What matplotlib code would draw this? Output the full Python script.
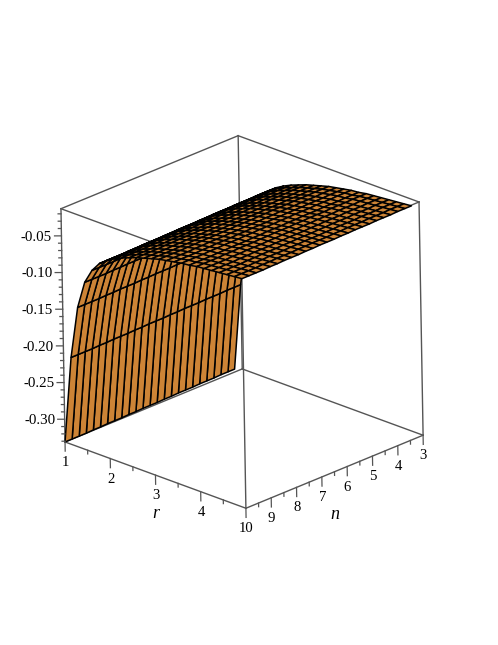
import numpy as np
import matplotlib
matplotlib.use("Agg")
import matplotlib.pyplot as plt
from mpl_toolkits.mplot3d import proj3d

# --------------------------------------------------------------
# Values
# --------------------------------------------------------------
r_vals = [1.0, 1.167, 1.333, 1.5, 1.667, 1.833, 2.0, 2.167, 2.333, 2.5, 2.667, 2.833, 3.0,
          3.167, 3.333, 3.5, 3.667, 3.833, 4.0, 4.167, 4.333, 4.5, 4.667, 4.833, 5.0]
z_profile = [-0.331, -0.212, -0.140, -0.102, -0.082, -0.069, -0.061, -0.055, -0.050, -0.046,
             -0.042, -0.039, -0.036, -0.033, -0.031, -0.029, -0.027, -0.026, -0.024, -0.023,
             -0.022, -0.021, -0.020, -0.019, -0.018]
n_vals = [10.0, 9.72, 9.44, 9.16, 8.88, 8.6, 8.32, 8.04, 7.76, 7.48, 7.2, 6.92, 6.64,
          6.36, 6.08, 5.8, 5.52, 5.24, 4.96, 4.68, 4.4, 4.12, 3.84, 3.56, 3.3]
n_lift = [0.0, 0.0, 0.0, 0.0, 0.0005, 0.0005, 0.001, 0.001, 0.001, 0.0015, 0.0015, 0.002, 0.002,
          0.002, 0.0025, 0.0025, 0.003, 0.003, 0.003, 0.0035, 0.0035, 0.0035, 0.004, 0.004, 0.004]

r_ticks = [1, 2, 3, 4]
n_ticks = [3, 4, 5, 6, 7, 8, 9, 10]
z_ticks = [-0.30, -0.25, -0.20, -0.15, -0.10, -0.05]
r_minor = [1.5, 2.5, 3.5, 4.5]
n_minor = [3.5, 4.5, 5.5, 6.5, 7.5, 8.5, 9.5]
z_minor = [-0.33, -0.32, -0.31, -0.29, -0.28, -0.27, -0.26, -0.24, -0.23, -0.22, -0.21,
           -0.19, -0.18, -0.17, -0.16, -0.14, -0.13, -0.12, -0.11, -0.09, -0.08, -0.07,
           -0.06, -0.04, -0.03, -0.02]

R_LIM = (1, 5)
N_LIM = (10, 3)
Z_LIM = (-0.331, -0.013)

FONT = "Liberation Serif"
BOX = "#555555"
ORANGE = "#CD8436"

# --------------------------------------------------------------
# Prepare the plot
# --------------------------------------------------------------
fig = plt.figure(figsize=(4.98, 6.45), dpi=100)
ax = fig.add_axes([-13.7 / 498, -6.2 / 645, 1, 1], projection="3d",
                  proj_type="ortho", computed_zorder=False)
ax.set_xlim(*R_LIM, view_margin=0)
ax.set_ylim(*N_LIM, view_margin=0)
ax.set_zlim(*Z_LIM, view_margin=0)
ax.set_box_aspect((1, 1, 1), zoom=0.855)
ax.view_init(elev=22.9, azim=-45.2, roll=1)
ax.set_axis_off()


def label(x, y, z, s, **kw):
    # flat annotation placed at the projected 3D point
    px, py, _ = proj3d.proj_transform(x, y, z, ax.get_proj())
    ax.annotate(s, xy=(px, py), family=FONT, va="center", **kw)


# Box edges go under the surface
r0, r1 = R_LIM
n0, n1 = N_LIM
z0, z1 = Z_LIM
edges = [
    ((r0, r1), (n0, n0), (z0, z0)), ((r0, r1), (n1, n1), (z0, z0)),
    ((r0, r1), (n0, n0), (z1, z1)), ((r0, r1), (n1, n1), (z1, z1)),
    ((r0, r0), (n0, n1), (z0, z0)), ((r1, r1), (n0, n1), (z0, z0)),
    ((r0, r0), (n0, n1), (z1, z1)), ((r1, r1), (n0, n1), (z1, z1)),
    ((r0, r0), (n0, n0), (z0, z1)), ((r1, r1), (n0, n0), (z0, z1)),
    ((r0, r0), (n1, n1), (z0, z1)), ((r1, r1), (n1, n1), (z0, z1)),
]
for xs, ys, zs in edges:
    ax.plot(xs, ys, zs, color=BOX, lw=1.0, zorder=1)

# Surface
R, N = np.meshgrid(r_vals, n_vals)
Z = np.array(z_profile)[None, :] + np.array(n_lift)[:, None]
ax.plot_surface(R, N, Z, rstride=1, cstride=1, color=ORANGE, edgecolor="black",
                linewidth=1.1, shade=False, antialiased=True, zorder=2)

# Ticks
for v in r_ticks:
    ax.plot((v, v), (n0, n0), (z0, z0 - 0.0125), color=BOX, lw=0.9, zorder=3)
    label(v, n0, z0 - 0.028, str(v), fontsize=10.6, ha="center")
for v in r_minor:
    ax.plot((v, v), (n0, n0), (z0, z0 - 0.005), color=BOX, lw=0.9, zorder=3)
for v in n_ticks:
    ax.plot((r1, r1), (v, v), (z0, z0 - 0.0125), color=BOX, lw=0.9, zorder=3)
    label(r1, v, z0 - 0.028, str(v), fontsize=10.6, ha="center")
for v in n_minor:
    ax.plot((r1, r1), (v, v), (z0, z0 - 0.005), color=BOX, lw=0.9, zorder=3)
for v in z_ticks:
    ax.plot((r0, r0 - 0.08), (n0, n0 + 0.13), (v, v), color=BOX, lw=0.9, zorder=3)
    label(r0 - 0.11, n0 + 0.18, v - 0.0015, f"{v:.2f}", fontsize=10.8, ha="right")
for v in z_minor:
    ax.plot((r0, r0 - 0.035), (n0, n0 + 0.055), (v, v), color=BOX, lw=0.9, zorder=3)

# Axis titles
label(3, n0, z0 - 0.0525, "r", style="italic", fontsize=13, ha="center")
label(r1, 6.5, z0 - 0.058, "n", style="italic", fontsize=13, ha="center")

fig.savefig("out.png", dpi=100)
